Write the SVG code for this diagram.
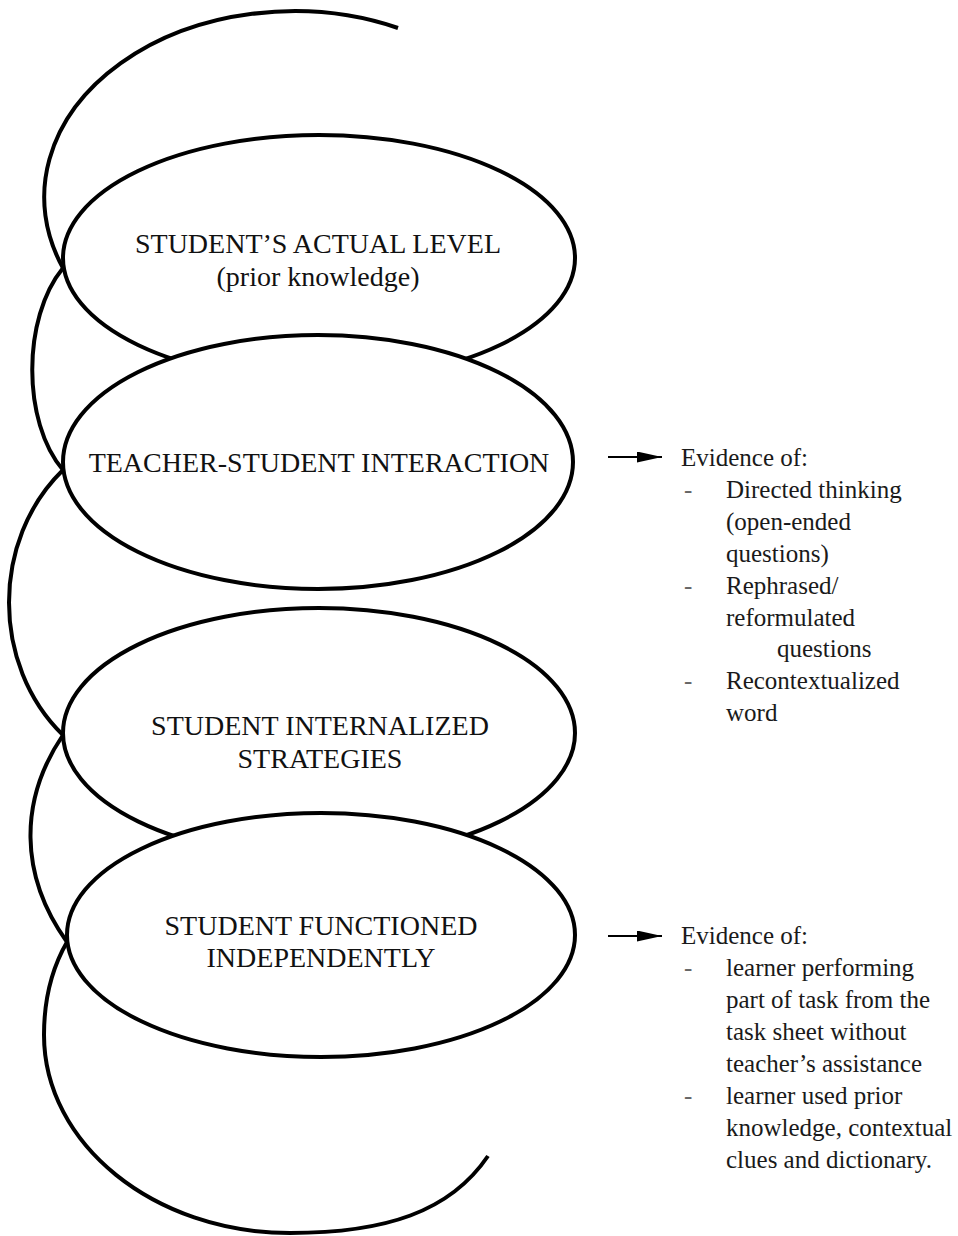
<svg xmlns="http://www.w3.org/2000/svg" width="958" height="1236" viewBox="0 0 958 1236">
  <style>
    .coil { fill: none; stroke: #000; stroke-width: 4; stroke-linecap: butt; }
    .ring { fill: #fff; stroke: #000; stroke-width: 4; }
    .label { font-family: "Liberation Serif", "Times New Roman", serif; font-size: 28px; fill: #111; text-anchor: middle; }
    .note { font-family: "Liberation Serif", "Times New Roman", serif; font-size: 25px; fill: #1a1a1a; }
    .dash { font-family: "Liberation Serif", "Times New Roman", serif; font-size: 25px; fill: #666; }
    .pointer { stroke: #000; stroke-width: 2; }
  </style>
  <defs>
    <marker id="head" viewBox="0 0 10 10" refX="10" refY="5" markerWidth="25" markerHeight="11" markerUnits="userSpaceOnUse" orient="auto" preserveAspectRatio="none">
      <path d="M0,0 L10,5 L0,10 Z" fill="#000"/>
    </marker>
  </defs>
  <rect width="958" height="1236" fill="#fff"/>

  <!-- back half of the coil: arcs that link the left tips of the rings -->
  <g id="connectors">
    <path class="coil" d="M 398 28 A 250 186 0 0 0 63 268"/>
    <path class="coil" d="M 63 268 C 22 318 22 422 63 470"/>
    <path class="coil" d="M 63 470 C -9 540 -9 665 63 735"/>
    <path class="coil" d="M 63 735 C 19 800 19 875 67 942"/>
    <path class="coil" d="M 67 942 C 52 968 44 1000 44 1035 C 44 1144 154 1233 290 1233 C 385 1233 450 1212 488 1156"/>
  </g>

  <!-- front half of the coil: one ring per stage -->
  <g id="actual-level">
    <ellipse class="ring" cx="319" cy="258" rx="256" ry="123"/>
    <text class="label" x="318" y="253">STUDENT’S ACTUAL LEVEL</text>
    <text class="label" x="318" y="286">(prior knowledge)</text>
  </g>

  <g id="interaction">
    <ellipse class="ring" cx="318" cy="462" rx="255" ry="127"/>
    <text class="label" x="319" y="472">TEACHER-STUDENT INTERACTION</text>
  </g>

  <g id="internalized">
    <ellipse class="ring" cx="319" cy="733" rx="256" ry="125"/>
    <text class="label" x="320" y="735">STUDENT INTERNALIZED</text>
    <text class="label" x="320" y="768">STRATEGIES</text>
  </g>

  <g id="independent">
    <ellipse class="ring" cx="321" cy="935" rx="254" ry="122"/>
    <text class="label" x="321" y="935">STUDENT FUNCTIONED</text>
    <text class="label" x="321" y="967">INDEPENDENTLY</text>
  </g>

  <!-- evidence notes -->
  <g id="evidence-interaction">
    <line class="pointer" x1="608" y1="457" x2="662" y2="457" marker-end="url(#head)"/>
    <text class="note" x="681" y="466">Evidence of:</text>
    <text class="dash" x="684" y="498">-</text>
    <text class="note" x="726" y="498">Directed thinking</text>
    <text class="note" x="726" y="530">(open-ended</text>
    <text class="note" x="726" y="562">questions)</text>
    <text class="dash" x="684" y="594">-</text>
    <text class="note" x="726" y="594">Rephrased/</text>
    <text class="note" x="726" y="626">reformulated</text>
    <text class="note" x="777" y="657">questions</text>
    <text class="dash" x="684" y="689">-</text>
    <text class="note" x="726" y="689">Recontextualized</text>
    <text class="note" x="726" y="721">word</text>
  </g>

  <g id="evidence-independent">
    <line class="pointer" x1="608" y1="936" x2="662" y2="936" marker-end="url(#head)"/>
    <text class="note" x="681" y="944">Evidence of:</text>
    <text class="dash" x="684" y="976">-</text>
    <text class="note" x="726" y="976">learner performing</text>
    <text class="note" x="726" y="1008">part of task from the</text>
    <text class="note" x="726" y="1040">task sheet without</text>
    <text class="note" x="726" y="1072">teacher’s assistance</text>
    <text class="dash" x="684" y="1104">-</text>
    <text class="note" x="726" y="1104">learner used prior</text>
    <text class="note" x="726" y="1136">knowledge, contextual</text>
    <text class="note" x="726" y="1168">clues and dictionary.</text>
  </g>
</svg>
